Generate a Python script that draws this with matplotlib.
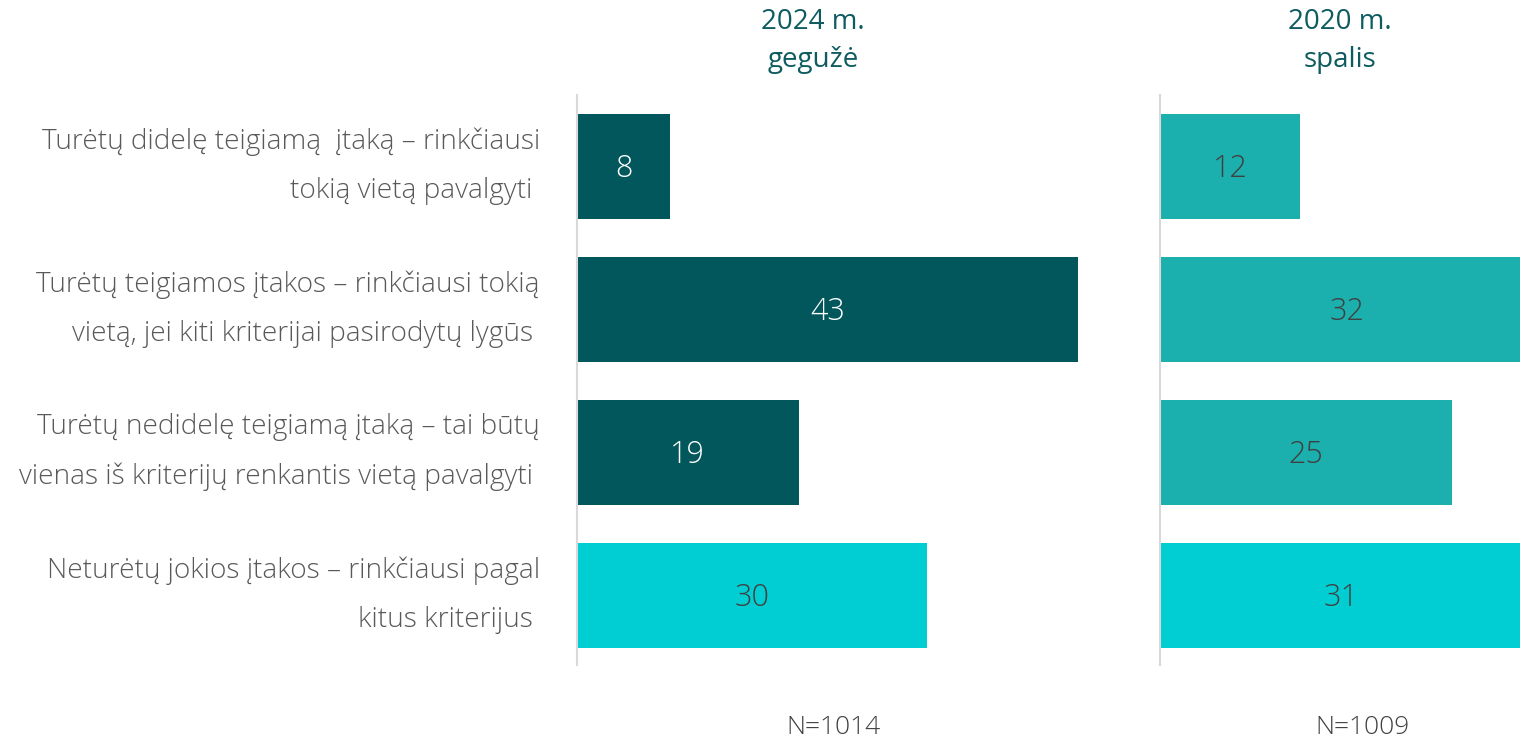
import matplotlib.pyplot as plt

categories = [
    "Turėtų didelę teigiamą  įtaką – rinkčiausi\ntokią vietą pavalgyti ",
    "Turėtų teigiamos įtakos – rinkčiausi tokią\nvietą, jei kiti kriterijai pasirodytų lygūs ",
    "Turėtų nedidelę teigiamą įtaką – tai būtų\nvienas iš kriterijų renkantis vietą pavalgyti ",
    "Neturėtų jokios įtakos – rinkčiausi pagal\nkitus kriterijus ",
]
values_2024 = [8, 43, 19, 30]
values_2020 = [12, 32, 25, 31]
titles = ["2024 m.\ngegužė", "2020 m.\nspalis"]
n_labels = ["N=1014", "N=1009"]

colors_2024 = ["#02575C", "#02575C", "#02575C", "#00CED3"]
colors_2020 = ["#1BB0AE", "#1BB0AE", "#1BB0AE", "#00CED3"]
txt_2024 = ["white", "white", "white", "#404040"]
txt_2020 = ["#404040", "#404040", "#404040", "#404040"]

FONT = "Open Sans"
W, H = 1520, 741
fig = plt.figure(figsize=(W / 100, H / 100), dpi=100)

def px(x0, y0, x1, y1):
    return [x0 / W, 1 - y1 / H, (x1 - x0) / W, (y1 - y0) / H]

scale = 583 / 50.0
ax1 = fig.add_axes(px(577, 95, 1160, 665))
ax2 = fig.add_axes(px(1160, 95, 1520, 665))
ys = list(range(len(categories)))
for ax, vals, cols, tcols, xmax in [
    (ax1, values_2024, colors_2024, txt_2024, 50.0),
    (ax2, values_2020, colors_2020, txt_2020, 360 / scale),
]:
    ax.barh(ys, vals, height=0.735, color=cols)
    ax.set_xlim(0, xmax)
    ax.set_ylim(3.49, -0.5)
    for s in ["top", "right", "bottom"]:
        ax.spines[s].set_visible(False)
    ax.spines["left"].set_color("#D9D9D9")
    ax.spines["left"].set_linewidth(1.5)
    ax.set_xticks([])
    ax.set_yticks([])
    for y, v, c in zip(ys, vals, tcols):
        ax.text(v / 2, y + 0.02, str(v), ha="center", va="center", color=c,
                fontsize=22, family=FONT, fontweight="light")

for y, lab in zip(ys, categories):
    ax1.text(-37 / scale, y, lab, ha="right", va="center", color="#595959",
             fontsize=20.2, family=FONT, fontweight="light", linespacing=1.98)

fig.text(813 / W, 1 - 41 / H, titles[0], ha="center", va="center",
         color="#0E5C60", fontsize=20, family=FONT, linespacing=1.5)
fig.text(1340 / W, 1 - 41 / H, titles[1], ha="center", va="center",
         color="#0E5C60", fontsize=20, family=FONT, linespacing=1.5)
fig.text(833 / W, 1 - 727 / H, n_labels[0], ha="center", va="center",
         color="#404040", fontsize=19, family=FONT, fontweight="light")
fig.text(1362 / W, 1 - 727 / H, n_labels[1], ha="center", va="center",
         color="#404040", fontsize=19, family=FONT, fontweight="light")

fig.savefig("out.png", dpi=100)
